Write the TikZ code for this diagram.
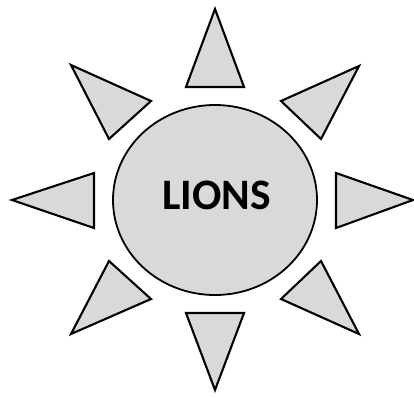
\documentclass[tikz,border=0pt]{standalone}
\usepackage{fontspec}
\setmainfont{Carlito}
\begin{document}
\begin{tikzpicture}[x=1pt,y=-1pt,
  ray/.style={draw=black,fill=sungray,line width=2.1pt,line join=miter},
  sun/.style={draw=black,fill=sungray,line width=1.8pt}]
\definecolor{sungray}{HTML}{D9D9D9}
\useasboundingbox (0,0) rectangle (414,397);
\draw[sun] (215,200) ellipse [x radius=102, y radius=95];
\node (lions) at (216.5,195) {\fontsize{43.5}{43.5}\selectfont\bfseries LIONS};
% top
\draw[ray] (215,9) -- (244,87) -- (186,87) -- cycle;
% bottom
\draw[ray] (215,390) -- (244,313) -- (186,313) -- cycle;
% left
\draw[ray] (12,200) -- (94,173) -- (94,228) -- cycle;
% right
\draw[ray] (413,200) -- (336,173) -- (336,228) -- cycle;
% upper-left
\draw[ray] (71,65) -- (151,101) -- (109,139) -- cycle;
% upper-right
\draw[ray] (359,66) -- (281,101) -- (321,139) -- cycle;
% lower-left
\draw[ray] (71,334) -- (151,299) -- (109,261) -- cycle;
% lower-right
\draw[ray] (359,334) -- (281,299) -- (321,261) -- cycle;
\end{tikzpicture}
\end{document}
